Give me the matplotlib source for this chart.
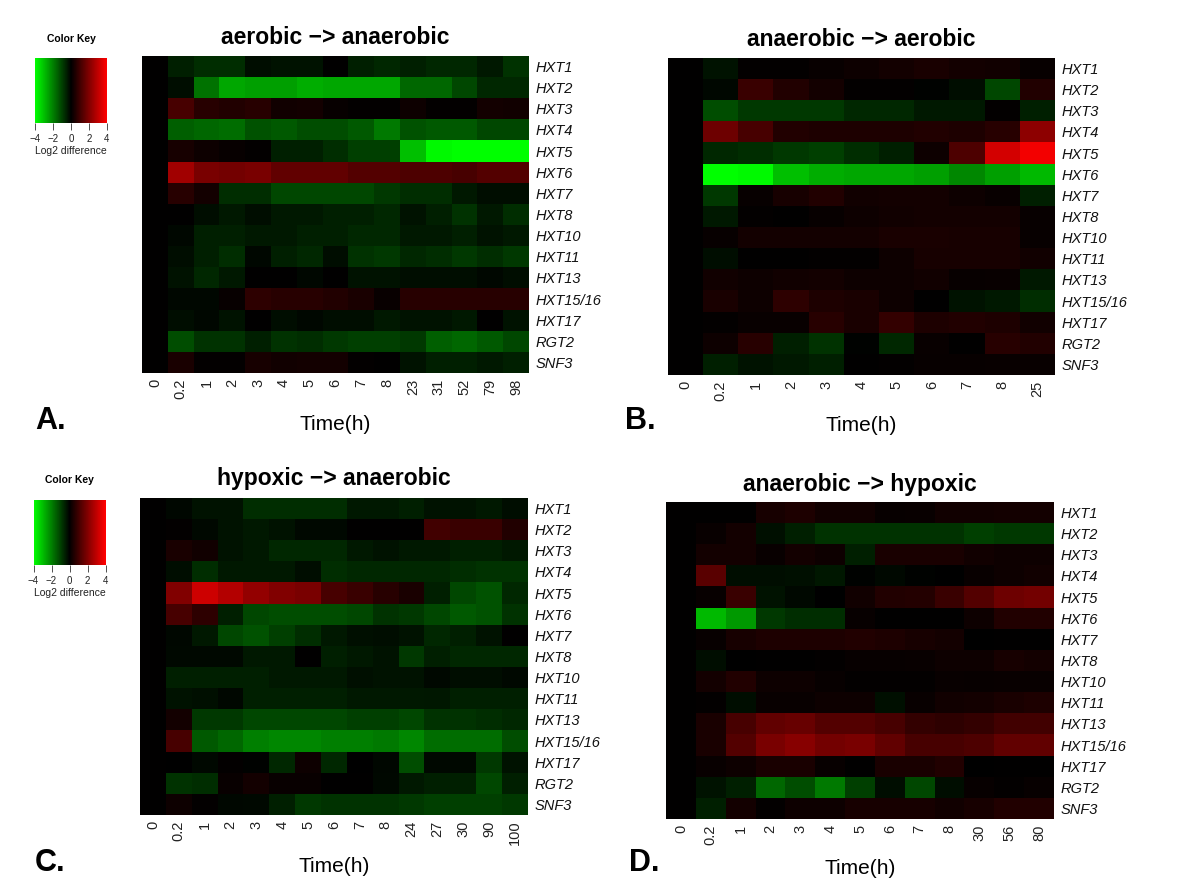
# heatmaps of hexose transporter expression after oxygen shifts
import matplotlib
matplotlib.use('Agg')
import matplotlib.pyplot as plt
import numpy as np
from matplotlib.cm import ScalarMappable
from matplotlib.colors import LinearSegmentedColormap, Normalize

plt.rcParams['font.family'] = ['Liberation Sans', 'DejaVu Sans']

W, H = 1200, 884

genes = ['HXT1', 'HXT2', 'HXT3', 'HXT4', 'HXT5', 'HXT6', 'HXT7', 'HXT8', 'HXT10',
         'HXT11', 'HXT13', 'HXT15/16', 'HXT17', 'RGT2', 'SNF3']

times_a = ['0', '0.2', '1', '2', '3', '4', '5', '6', '7', '8', '23', '31', '52', '79', '98']
times_b = ['0', '0.2', '1', '2', '3', '4', '5', '6', '7', '8', '25']
times_c = ['0', '0.2', '1', '2', '3', '4', '5', '6', '7', '8', '24', '27', '30', '90', '100']
times_d = ['0', '0.2', '1', '2', '3', '4', '5', '6', '7', '8', '30', '56', '80']

values_a = [
    [0, -.5, -.7, -.7, -.2, -.3, -.3, 0, -.5, -.6, -.5, -.6, -.6, -.4, -.8],
    [0, -.2, -1.8, -2.6, -2.5, -2.5, -2.7, -2.6, -2.6, -2.6, -1.6, -1.6, -1.1, -.6, -.6],
    [0, 1.1, .6, .5, .6, .25, .3, .1, .05, .05, .2, .05, .05, .3, .25],
    [0, -1.5, -1.6, -1.7, -1.3, -1.4, -1.2, -1.2, -1.4, -1.9, -1.3, -1.4, -1.4, -1.1, -1.1],
    [0, .35, .2, .1, .05, -.5, -.5, -.7, -1, -1, -3, -3.9, -4, -4, -4],
    [0, 2.5, 1.9, 1.8, 1.9, 1.5, 1.5, 1.5, 1.3, 1.3, 1.2, 1.2, 1.1, 1.3, 1.3],
    [0, .6, .3, -.7, -.7, -1.1, -1.1, -1.1, -1.1, -.9, -.7, -.7, -.4, -.2, -.2],
    [0, 0, -.2, -.4, -.2, -.4, -.4, -.5, -.5, -.6, -.3, -.5, -.8, -.4, -.7],
    [0, -.1, -.5, -.5, -.4, -.4, -.5, -.5, -.6, -.6, -.4, -.4, -.5, -.3, -.4],
    [0, -.2, -.5, -.7, -.1, -.5, -.6, -.2, -.8, -.9, -.6, -.7, -.9, -.7, -.9],
    [0, -.3, -.6, -.4, 0, 0, -.1, 0, -.3, -.3, -.2, -.2, -.2, -.1, -.2],
    [0, -.1, -.1, .1, .7, .6, .6, .5, .4, .15, .6, .6, .6, .6, .6],
    [0, -.2, -.1, -.3, 0, -.2, -.1, -.2, -.2, -.4, -.3, -.3, -.4, 0, -.3],
    [0, -1.2, -.8, -.8, -.5, -.8, -.7, -.9, -1, -1, -.9, -1.5, -1.6, -1.4, -1.1],
    [0, .4, .05, .05, .35, .25, .3, .3, .05, 0, -.3, -.5, -.5, -.4, -.5],
]

values_b = [
    [0, -.3, .05, .05, .15, .2, .3, .4, .3, .25, .1],
    [0, -.1, .9, .5, .3, .05, .05, -.05, -.2, -1.1, .5],
    [0, -1.2, -.9, -.9, -.9, -.6, -.6, -.4, -.4, .05, -.5],
    [0, 1.7, 1.1, .5, .45, .45, .45, .5, .45, .6, 2.2],
    [0, -.6, -.7, -.9, -1, -.7, -.5, .2, 1.2, 3.3, 3.8],
    [0, -4, -3.9, -3, -2.7, -2.6, -2.6, -2.5, -2.1, -2.5, -2.9],
    [0, -.9, .1, .35, .5, .25, .3, .3, .2, .15, -.5],
    [0, -.4, .05, 0, .1, .2, .25, .3, .3, .3, .1],
    [0, .1, .3, .3, .3, .3, .4, .4, .35, .35, .1],
    [0, -.2, 0, 0, .05, .05, .2, .35, .35, .35, .25],
    [0, .25, .2, .25, .3, .2, .2, .25, .1, .15, -.4],
    [0, .4, .2, .7, .45, .4, .2, 0, -.3, -.4, -.7],
    [0, .05, .15, .15, .6, .4, .8, .45, .5, .45, .25],
    [0, .2, .6, -.5, -.8, -.05, -.6, .15, .02, .6, .5],
    [0, -.5, -.3, -.4, -.5, 0, .05, .1, .1, .15, .15],
]

values_c = [
    [0, -.1, -.3, -.3, -.7, -.7, -.7, -.7, -.4, -.4, -.5, -.3, -.3, -.4, -.2],
    [0, .05, -.15, -.3, -.4, -.3, -.15, -.15, 0, 0, 0, 1, .9, .9, .5],
    [0, .4, .25, -.3, -.4, -.6, -.6, -.6, -.4, -.3, -.4, -.4, -.5, -.5, -.4],
    [0, -.2, -.7, -.4, -.4, -.4, -.2, -.7, -.6, -.6, -.6, -.6, -.7, -.8, -.8],
    [0, 2, 3.2, 2.8, 2.3, 2, 1.9, 1.1, .9, .6, .4, -.5, -1.1, -1.3, -.6],
    [0, 1.1, .7, -.5, -1.1, -1.2, -1.2, -1.2, -1.1, -.8, -.9, -1.1, -1.4, -1.3, -.8],
    [0, -.1, -.4, -1.1, -1.3, -1, -.7, -.4, -.25, -.2, -.3, -.6, -.5, -.3, 0],
    [0, -.15, -.15, -.15, -.4, -.4, 0, -.5, -.4, -.3, -.9, -.5, -.6, -.6, -.6],
    [0, -.5, -.5, -.5, -.5, -.4, -.4, -.4, -.25, -.3, -.3, -.15, -.2, -.2, -.15],
    [0, -.3, -.25, -.1, -.5, -.5, -.5, -.5, -.4, -.4, -.4, -.35, -.5, -.5, -.5],
    [0, .3, -.9, -.9, -1.1, -1.1, -1.1, -1.1, -1, -1, -1.1, -.8, -.8, -.7, -.6],
    [0, 1.1, -1.4, -1.6, -2, -2.1, -2.1, -2, -2, -1.9, -2.1, -1.7, -1.7, -1.7, -1.2],
    [0, -.02, -.15, .05, -.05, -.6, .2, -.6, -.02, -.1, -1.2, -.15, -.15, -.9, -.3],
    [0, -.8, -.7, .15, .3, .15, .15, 0, 0, -.15, -.4, -.5, -.5, -1.1, -.5],
    [0, .2, .05, -.1, -.15, -.5, -.9, -.8, -.8, -.8, -.9, -1, -1, -1, -.9],
]

values_d = [
    [0, 0, 0, .35, .45, .25, .25, .1, .15, .25, .25, .3, .3],
    [0, .15, .3, -.25, -.5, -.8, -.8, -.8, -.8, -.8, -1, -.9, -.9],
    [0, .3, .3, .15, .3, .2, -.5, .4, .4, .4, .25, .2, .2],
    [0, 1.4, -.2, -.2, -.25, -.35, -.05, -.15, -.05, -.03, .15, .2, .25],
    [0, .1, .9, -.3, -.15, -.02, .25, .5, .55, .9, 1.3, 1.7, 1.8],
    [0, -2.9, -2.4, -.9, -.7, -.7, .1, 0, .02, 0, .2, .5, .5],
    [0, .1, .35, .45, .45, .45, .5, .45, .35, .3, -.02, 0, 0],
    [0, -.2, -.03, 0, .03, .05, .1, .12, .15, .2, .2, .35, .3],
    [0, .3, .5, .2, .2, .1, .05, .05, .05, .15, .1, .15, .15],
    [0, .05, -.2, .15, .15, .2, .2, -.25, .15, .25, .3, .4, .45],
    [0, .4, 1.1, 1.5, 1.6, 1.3, 1.3, 1.1, .8, .7, .8, 1, 1],
    [0, .4, 1.3, 1.9, 2.1, 1.8, 1.9, 1.5, 1.1, 1.1, 1.2, 1.5, 1.5],
    [0, .15, .2, .4, .4, .1, 0, .4, .4, .5, -.02, 0, 0],
    [0, -.3, -.5, -1.6, -1.2, -1.9, -1, -.2, -1.1, -.2, .1, .05, .1],
    [0, -.5, .3, .05, .2, .2, .35, .35, .35, .25, .35, .5, .5],
]

cmap = LinearSegmentedColormap.from_list('gbr', ['#00ff00', '#000000', '#ff0000'])
norm = Normalize(-4, 4)


def add_axes_px(fig, left, top, right, bottom):
    return fig.add_axes([left / W, 1 - bottom / H, (right - left) / W, (bottom - top) / H])


def put_text(fig, x, y, s, **kw):
    fig.text(x / W, 1 - y / H, s, ha='center', va='center', **kw)


fig = plt.figure(figsize=(12, 8.84), dpi=100)

# title, box (left, top, right, bottom), title y, time label y, letter position
panels = [
    ('aerobic \u2212> anaerobic', values_a, times_a, (142, 56, 529, 373), 38, 424, 'A.', (51, 421)),
    ('anaerobic \u2212> aerobic', values_b, times_b, (668, 58, 1055, 375), 39, 425, 'B.', (640, 421)),
    ('hypoxic \u2212> anaerobic', values_c, times_c, (140, 498, 528, 815), 479, 866, 'C.', (50, 863)),
    ('anaerobic \u2212> hypoxic', values_d, times_d, (666, 502, 1054, 819), 484, 869, 'D.', (644, 863)),
]

for title, values, times, box, title_y, label_y, letter, letter_xy in panels:
    ax = add_axes_px(fig, *box)
    data = np.array(values)
    ax.imshow(data, cmap=cmap, norm=norm, aspect='auto', interpolation='nearest')
    ax.set_xticks(range(len(times)))
    ax.set_xticklabels(times, rotation=90, fontsize=10.5, color='#222222')
    ax.set_yticks(range(len(genes)))
    ax.set_yticklabels(genes, fontsize=10.5, style='italic', color='#111111')
    ax.yaxis.tick_right()
    ax.tick_params(axis='both', length=0)
    ax.tick_params(axis='x', pad=4)
    ax.tick_params(axis='y', pad=5)
    for sp in ax.spines.values():
        sp.set_visible(False)
    xmid = (box[0] + box[2]) / 2
    put_text(fig, xmid, title_y, title, fontsize=16.5, fontweight='bold')
    put_text(fig, xmid, label_y, 'Time(h)', fontsize=15)
    put_text(fig, letter_xy[0], letter_xy[1], letter, fontsize=22, fontweight='bold')

# colour keys
for key_box, key_title_y in [((35, 58, 107, 123), 39), ((33.5, 500, 105.5, 565), 480)]:
    cax = add_axes_px(fig, *key_box)
    cb = fig.colorbar(ScalarMappable(norm=norm, cmap=cmap), cax=cax, orientation='horizontal')
    cb.set_ticks([-4, -2, 0, 2, 4])
    cb.ax.tick_params(labelsize=7, length=5, width=0.6, pad=3, color='#333333', labelcolor='#222222')
    cb.outline.set_visible(False)
    cb.set_label('Log2 difference', fontsize=7.5, labelpad=1, color='#222222')
    put_text(fig, (key_box[0] + key_box[2]) / 2, key_title_y, 'Color Key', fontsize=7.5, fontweight='bold')

fig.savefig('out.png', dpi=100)
